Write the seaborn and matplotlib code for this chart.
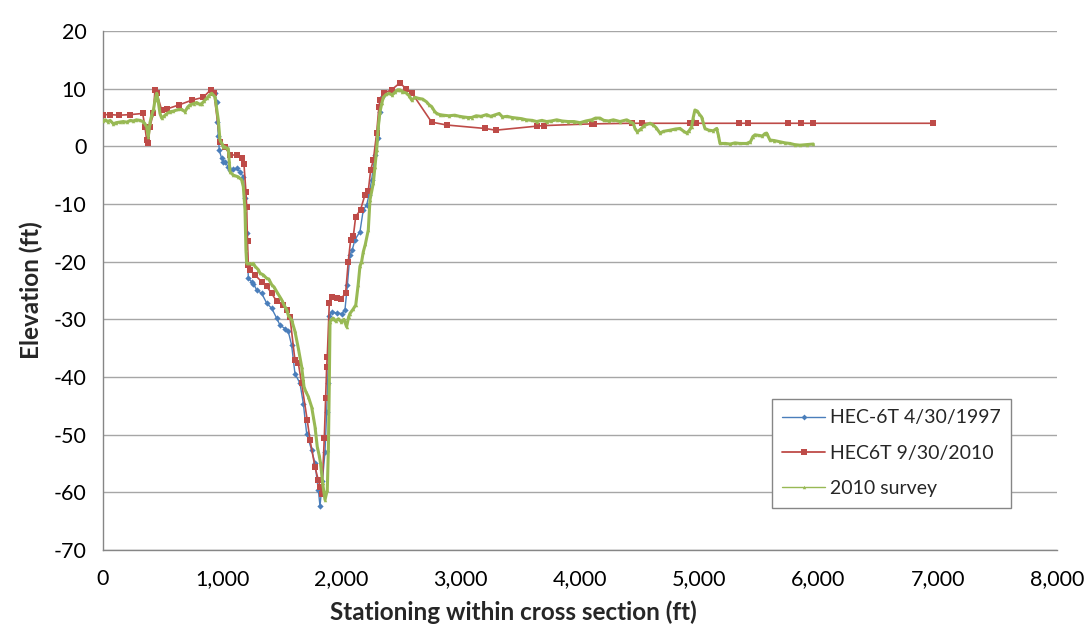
import matplotlib
matplotlib.use("Agg")
import matplotlib.pyplot as plt
from matplotlib.lines import Line2D
from matplotlib.ticker import FuncFormatter
import seaborn as sns
import pandas as pd

# HEC-6T model cross section, 4/30/1997
sta_1997 = [940, 953, 960, 967, 975, 995, 1009, 1023, 1051, 1065, 1093, 1121, 1149, 1177,
            1191, 1205, 1219, 1247, 1261, 1289, 1331, 1373, 1415, 1457, 1484, 1526, 1554,
            1582, 1610, 1652, 1680, 1708, 1750, 1778, 1806, 1820, 1840, 1862, 1876, 1884,
            1898, 1918, 1960, 2002, 2029, 2050, 2071, 2090, 2113, 2155, 2183, 2211, 2230,
            2253, 2281, 2309, 2323, 2340]
elev_1997 = [9.2, 7.7, 4.3, 1.8, -0.6, -2.1, -2.7, -2.8, -3.5, -4.1, -4.0, -3.8, -4.4, -5.3,
             -9.0, -15.0, -22.9, -23.5, -23.8, -24.9, -25.5, -27.2, -28.1, -29.8, -31.0, -31.6,
             -32.1, -34.5, -39.4, -41.1, -44.6, -49.8, -52.7, -55.0, -59.6, -62.4, -58.0,
             -53.0, -46.0, -41.0, -29.5, -28.7, -28.9, -29.0, -28.4, -24.0, -18.8, -18.0,
             -16.2, -14.8, -11.0, -10.2, -8.5, -5.8, -1.5, 1.4, 6.0, 8.5]

# HEC-6T model cross section, 9/30/2010
sta_2010 = [0, 60, 137, 226, 333, 352, 366, 380, 394, 422, 436, 450, 492, 539, 640, 744, 841,
            903, 931, 981, 1023, 1065, 1121, 1163, 1182, 1199, 1205, 1212, 1219, 1233, 1275,
            1331, 1373, 1415, 1457, 1512, 1540, 1568, 1610, 1638, 1666, 1713, 1736, 1778,
            1806, 1820, 1835, 1856, 1867, 1876, 1881, 1898, 1918, 1960, 1995, 2035, 2057,
            2077, 2100, 2119, 2160, 2197, 2225, 2245, 2267, 2295, 2314, 2323, 2360, 2420,
            2490, 2541, 2589, 2756, 2882, 3203, 3293, 3637, 3698, 4098, 4120, 4433, 4517,
            4922, 4973, 5333, 5412, 5741, 5853, 5957, 6957]
elev_2010 = [5.5, 5.5, 5.4, 5.5, 5.7, 3.4, 1.1, 0.6, 3.4, 5.7, 9.8, 9.3, 6.3, 6.5, 7.2, 8.0,
             8.5, 9.8, 9.2, 0.8, -0.1, -1.5, -1.5, -2.1, -3.0, -7.9, -10.5, -16.5, -20.6,
             -21.5, -22.3, -23.5, -24.3, -25.5, -26.9, -27.5, -28.4, -29.6, -37.1, -37.6,
             -41.1, -47.5, -50.9, -55.6, -57.9, -59.0, -60.3, -50.6, -43.7, -38.2, -36.5,
             -27.2, -26.1, -26.3, -26.5, -25.4, -20.0, -16.2, -15.5, -12.2, -11.0, -8.4,
             -7.7, -4.1, -2.4, 2.3, 6.9, 8.0, 9.3, 9.8, 11.0, 10.0, 9.3, 4.2, 3.7, 3.1, 2.8,
             3.5, 3.6, 3.9, 3.9, 4.0, 4.0, 4.0, 4.0, 4.0, 4.0, 4.0, 4.0, 4.0, 4.0]

# 2010 field survey
sta_survey = [0, 20, 40, 60, 87, 110, 140, 170, 200, 230, 254, 280, 310, 338, 352, 366, 380,
              394, 410, 425, 436, 450, 462, 478, 492, 510, 530, 562, 590, 632, 660, 688, 710,
              730, 760, 786, 810, 828, 850, 869, 890, 911, 939, 967, 981, 995, 1009, 1023,
              1037, 1051, 1058, 1065, 1093, 1135, 1163, 1177, 1191, 1199, 1205, 1219, 1247,
              1261, 1275, 1303, 1317, 1345, 1373, 1390, 1415, 1435, 1457, 1484, 1498, 1526,
              1540, 1554, 1582, 1610, 1638, 1666, 1686, 1700, 1722, 1750, 1765, 1778, 1797,
              1812, 1825, 1842, 1862, 1881, 1890, 1898, 1904, 1918, 1932, 1950, 1975, 2000,
              2020, 2043, 2060, 2071, 2099, 2120, 2140, 2155, 2169, 2183, 2200, 2225, 2239,
              2267, 2281, 2295, 2309, 2323, 2340, 2351, 2375, 2400, 2425, 2450, 2470, 2490,
              2510, 2547, 2570, 2589, 2617, 2650, 2680, 2714, 2735, 2756, 2780, 2798, 2825,
              2854, 2900, 2950, 2990, 3021, 3060, 3091, 3130, 3170, 3217, 3250, 3280, 3323,
              3350, 3390, 3430, 3469, 3510, 3550, 3600, 3637, 3680, 3720, 3760, 3805, 3850,
              3900, 3950, 4000, 4050, 4098, 4130, 4168, 4200, 4240, 4280, 4335, 4392, 4420,
              4447, 4461, 4481, 4510, 4540, 4587, 4615, 4640, 4671, 4700, 4755, 4800, 4839,
              4870, 4895, 4915, 4937, 4950, 4964, 4985, 5000, 5020, 5048, 5080, 5118, 5146,
              5160, 5174, 5220, 5260, 5300, 5340, 5398, 5430, 5450, 5468, 5500, 5530, 5550,
              5565, 5593, 5630, 5677, 5720, 5761, 5800, 5845, 5900, 5957]
elev_survey = [4.4, 4.6, 4.3, 4.5, 3.9, 4.1, 4.2, 4.3, 4.2, 4.5, 4.4, 4.6, 4.5, 4.3, 3.9, 3.4,
               1.7, 4.1, 5.5, 6.5, 8.0, 9.2, 8.0, 5.7, 4.9, 5.2, 5.6, 6.0, 6.1, 6.4, 6.4, 6.0,
               6.8, 7.2, 7.4, 7.6, 7.3, 7.4, 7.9, 8.3, 8.8, 9.2, 8.6, 4.6, 1.1, 0.6, -0.1,
               -0.1, -0.3, -0.4, -2.5, -4.4, -5.0, -5.3, -5.8, -7.0, -11.0, -18.0, -20.3,
               -20.3, -20.4, -20.3, -20.8, -21.4, -22.0, -22.3, -22.9, -23.0, -24.0, -24.4,
               -25.2, -26.1, -26.6, -27.8, -28.3, -29.3, -30.1, -32.1, -35.0, -38.2, -41.7,
               -42.5, -43.4, -45.2, -47.0, -48.6, -52.1, -53.5, -55.0, -58.4, -61.3, -59.6,
               -52.7, -41.1, -30.4, -30.0, -29.8, -30.3, -29.9, -30.5, -30.0, -31.3, -29.6,
               -29.0, -28.2, -27.5, -24.0, -20.8, -20.0, -18.3, -17.0, -14.5, -9.3, -6.4,
               -3.5, -0.6, 3.4, 6.0, 7.6, 8.5, 9.0, 9.2, 8.9, 9.4, 9.8, 9.8, 9.5, 9.2, 8.7,
               8.0, 8.5, 8.3, 8.2, 7.7, 7.2, 6.9, 6.1, 5.7, 5.5, 5.4, 5.3, 5.4, 5.2, 5.1, 5.0,
               5.0, 5.3, 5.2, 5.5, 5.2, 5.4, 5.7, 5.1, 5.2, 5.0, 4.9, 4.8, 4.6, 4.5, 4.3, 4.5,
               4.3, 4.4, 4.6, 4.4, 4.3, 4.3, 4.1, 4.4, 4.6, 4.9, 4.9, 4.5, 4.4, 4.6, 4.3, 4.6,
               4.3, 4.0, 3.1, 2.5, 3.0, 3.6, 4.0, 3.7, 3.2, 2.3, 2.6, 2.8, 3.0, 3.1, 2.6, 2.3,
               2.7, 3.4, 5.0, 6.3, 6.1, 5.6, 5.1, 3.1, 2.8, 2.7, 3.1, 2.0, 0.5, 0.5, 0.4, 0.6,
               0.5, 0.5, 0.8, 1.7, 2.0, 1.9, 1.8, 2.2, 2.3, 1.1, 1.0, 0.8, 0.6, 0.5, 0.3, 0.2,
               0.3, 0.4]

labels = ["HEC-6T 4/30/1997", "HEC6T 9/30/2010", "2010 survey"]
colors = ["#4A7EBB", "#BE4B48", "#98B954"]

x_ticks = list(range(0, 8001, 1000))
y_ticks = list(range(-70, 21, 10))

sns.set_theme(style="white")
plt.rcParams["font.family"] = ["Lato", "DejaVu Sans"]
plt.rcParams["axes.unicode_minus"] = False

fig = plt.figure(figsize=(10.92, 6.29), dpi=100)
ax = fig.add_axes([0.0943, 0.1256, 0.8736, 0.8251])

df_97 = pd.DataFrame({"station": sta_1997, "elevation": elev_1997})
df_10 = pd.DataFrame({"station": sta_2010, "elevation": elev_2010})
df_sv = pd.DataFrame({"station": sta_survey, "elevation": elev_survey})

sns.lineplot(data=df_97, x="station", y="elevation", sort=False, estimator=None, ax=ax,
             color=colors[0], lw=1.0, marker="D", markersize=3.2, markeredgewidth=0,
             zorder=3)
sns.lineplot(data=df_10, x="station", y="elevation", sort=False, estimator=None, ax=ax,
             color=colors[1], lw=1.2, marker="s", markersize=5, markeredgewidth=0,
             zorder=4)
sns.lineplot(data=df_sv, x="station", y="elevation", sort=False, estimator=None, ax=ax,
             color=colors[2], lw=2.2, marker="^", markersize=2.5, markeredgewidth=0,
             zorder=5)

ax.set_xlim(0, 8000)
ax.set_ylim(-70, 20)
ax.set_xticks(x_ticks)
ax.set_yticks(y_ticks)
ax.xaxis.set_major_formatter(FuncFormatter(lambda v, p: f"{int(v):,}"))
ax.yaxis.grid(True, color="#A6A6A6", lw=1.0)
ax.xaxis.grid(False)
for side in ("top", "right"):
    ax.spines[side].set_visible(False)
for side in ("left", "bottom"):
    ax.spines[side].set_color("#868686")
    ax.spines[side].set_linewidth(1.0)
ax.tick_params(axis="both", which="major", direction="out", length=5, width=1,
               color="#868686", labelsize=15.5, labelcolor="black")
ax.tick_params(axis="x", pad=9)
ax.tick_params(axis="y", length=0, pad=12)

ax.set_xlabel("Stationing within cross section (ft)", fontsize=17.5, fontweight="bold")
ax.set_ylabel("Elevation (ft)", fontsize=17.5, fontweight="bold")
ax.xaxis.set_label_coords(0.43, -0.098)
ax.yaxis.set_label_coords(-0.063, 0.5)

handles = [
    Line2D([], [], color=colors[0], lw=1.0, marker="D", markersize=3, markeredgewidth=0),
    Line2D([], [], color=colors[1], lw=1.3, marker="s", markersize=4.5, markeredgewidth=0),
    Line2D([], [], color=colors[2], lw=1.0, marker="^", markersize=2.5, markeredgewidth=0),
]
leg = ax.legend(handles, labels, loc="lower left", bbox_to_anchor=(0.701, 0.081),
                borderaxespad=0, fontsize=14, frameon=True, fancybox=False,
                edgecolor="#868686", framealpha=1, handlelength=2.2, handletextpad=0.25,
                labelspacing=0.95, borderpad=0.55)
leg.get_frame().set_linewidth(1.0)

fig.savefig("out.png", dpi=100)
